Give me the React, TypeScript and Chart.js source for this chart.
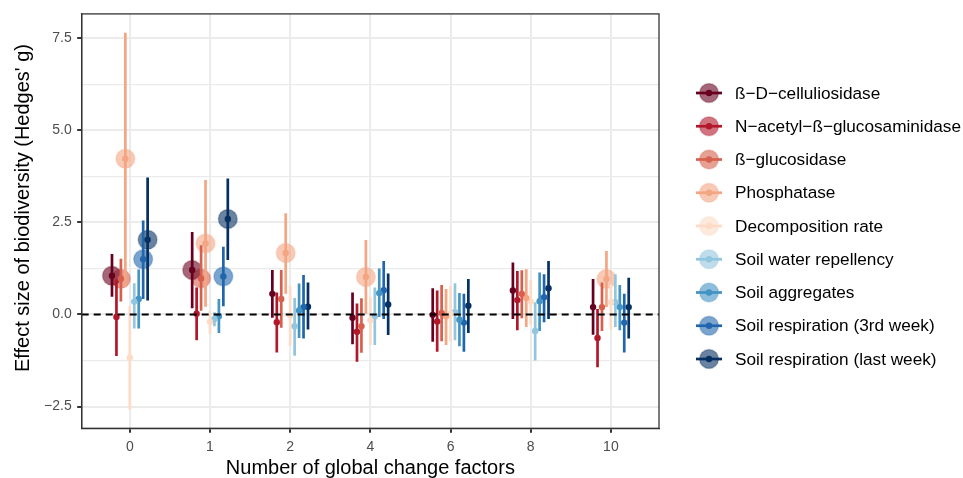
import React, { useEffect, useRef } from "react";
import { Chart, registerables } from "chart.js";
Chart.register(...registerables);

// ---------- data ----------
const categories = ["0", "1", "2", "4", "6", "8", "10"];
const seriesNames = [
  "ß\u2212D\u2212celluliosidase",
  "N\u2212acetyl\u2212ß\u2212glucosaminidase",
  "ß\u2212glucosidase",
  "Phosphatase",
  "Decomposition rate",
  "Soil water repellency",
  "Soil aggregates",
  "Soil respiration (3rd week)",
  "Soil respiration (last week)",
];
const seriesColors = ["#67001F", "#B2182B", "#D6604D", "#F4A582", "#FDDBC7", "#92C5DE", "#4393C3", "#2166AC", "#053061"];

const cellulosidaseMean = [1.05, 1.21, 0.56, -0.09, -0.01, 0.65, 0.2];
const cellulosidaseLow = [0.48, 0.17, -0.09, -0.81, -0.74, -0.12, -0.55];
const cellulosidaseHigh = [1.64, 2.24, 1.21, 0.6, 0.71, 1.41, 0.96];
const cellulosidaseBig = [1, 1, 0, 0, 0, 0, 0];

const acetylMean = [-0.07, 0.02, -0.21, -0.47, -0.19, 0.39, -0.64];
const acetylLow = [-1.13, -0.7, -1.03, -1.28, -1.01, -0.43, -1.43];
const acetylHigh = [0.95, 0.73, 0.6, 0.3, 0.65, 1.18, 0.15];
const acetylBig = [0, 0, 0, 0, 0, 0, 0];

const glucosidaseMean = [0.97, 0.98, 0.42, -0.32, 0.04, 0.56, 0.2];
const glucosidaseLow = [0.35, 0.1, -0.36, -1.04, -0.73, -0.1, -0.45];
const glucosidaseHigh = [1.51, 1.88, 1.21, 0.44, 0.8, 1.2, 0.87];
const glucosidaseBig = [1, 1, 0, 0, 0, 0, 0];

const phosphataseMean = [4.23, 1.93, 1.67, 1.02, -0.05, 0.45, 0.96];
const phosphataseLow = [0.75, 0.21, 0.56, 0.02, -0.83, -0.34, 0.2];
const phosphataseHigh = [7.65, 3.65, 2.75, 2.02, 0.69, 1.23, 1.72];
const phosphataseBig = [1, 1, 1, 1, 0, 0, 1];

const decompositionMean = [-1.17, -0.2, -0.03, -0.16, 0.02, 0.35, 0.33];
const decompositionLow = [-2.58, -0.52, -0.85, -0.83, -0.73, -0.28, -0.41];
const decompositionHigh = [0.24, 0.1, 0.78, 0.48, 0.78, 0.94, 0.82];
const decompositionBig = [0, 0, 0, 0, 0, 0, 0];

const repellencyMean = [0.35, -0.12, -0.32, -0.05, 0.06, -0.45, 0.33];
const repellencyLow = [-0.38, -0.32, -1.12, -0.83, -0.7, -1.25, -0.34];
const repellencyHigh = [0.85, 0.06, 0.45, 0.73, 0.85, 0.33, 1.09];
const repellencyBig = [0, 0, 0, 0, 0, 0, 0];

const aggregatesMean = [0.42, -0.05, 0.11, 0.58, -0.14, 0.36, 0.2];
const aggregatesLow = [-0.38, -0.5, -0.64, -0.07, -0.86, -0.45, -0.43];
const aggregatesHigh = [1.22, 0.42, 0.84, 1.25, 0.58, 1.14, 0.8];
const aggregatesBig = [0, 0, 0, 0, 0, 0, 0];

const resp3Mean = [1.5, 1.03, 0.2, 0.66, -0.22, 0.47, -0.22];
const resp3Low = [0.42, 0.22, -0.65, -0.12, -1.01, -0.21, -1.03];
const resp3High = [2.55, 1.84, 1.07, 1.45, 0.56, 1.09, 0.56];
const resp3Big = [1, 1, 0, 0, 0, 0, 0];

const respLastMean = [2.03, 2.59, 0.21, 0.27, 0.24, 0.71, 0.2];
const respLastLow = [0.38, 1.48, -0.41, -0.56, -0.5, -0.12, -0.65];
const respLastHigh = [3.72, 3.69, 0.87, 1.11, 0.96, 1.45, 1.0];
const respLastBig = [1, 1, 0, 0, 0, 0, 0];

const yTickValues = [-2.5, -1.25, 0, 1.25, 2.5, 3.75, 5, 6.25, 7.5];
const xTitle = "Number of global change factors";
const yTitle = "Effect size of biodiversity (Hedges' g)";

const seriesMeans = [cellulosidaseMean, acetylMean, glucosidaseMean, phosphataseMean, decompositionMean, repellencyMean, aggregatesMean, resp3Mean, respLastMean];
const seriesLows = [cellulosidaseLow, acetylLow, glucosidaseLow, phosphataseLow, decompositionLow, repellencyLow, aggregatesLow, resp3Low, respLastLow];
const seriesHighs = [cellulosidaseHigh, acetylHigh, glucosidaseHigh, phosphataseHigh, decompositionHigh, repellencyHigh, aggregatesHigh, resp3High, respLastHigh];
const seriesBig = [cellulosidaseBig, acetylBig, glucosidaseBig, phosphataseBig, decompositionBig, repellencyBig, aggregatesBig, resp3Big, respLastBig];

// ---------- styling ----------
const FONT = "'Liberation Sans', Arial, Helvetica, sans-serif";
const BIG_ALPHA = 0.6;
const BIG_R = 9.5;
const SMALL_R = 3.2;
const BAR_W = 2.7;

function hexA(hex: string, a: number) {
  const r = parseInt(hex.slice(1, 3), 16);
  const g = parseInt(hex.slice(3, 5), 16);
  const b = parseInt(hex.slice(5, 7), 16);
  return `rgba(${r},${g},${b},${a})`;
}

function fmtY(v: number) {
  const s = Math.abs(v).toFixed(1);
  return v < 0 ? "\u2212" + s : s;
}

const isMajor = (v: number) => Math.abs(v / 2.5 - Math.round(v / 2.5)) < 1e-9;

export default function App() {
  const ref = useRef<HTMLCanvasElement>(null);

  useEffect(() => {
    const canvas = ref.current!;
    const n = seriesNames.length;
    const dodge = 0.5 / n;
    const datasets: any[] = [];

    datasets.push({
      type: "line",
      data: [{ x: -0.6, y: 0 }, { x: 6.6, y: 0 }],
      borderColor: "#000000",
      borderWidth: 2,
      borderDash: [7, 5],
      pointRadius: 0,
      order: 0,
    });

    for (let i = 0; i < n; i++) {
      const off = (i - (n - 1) / 2) * dodge;
      const color = seriesColors[i];
      const bars: any[] = [];
      seriesMeans[i].forEach((_, j) => {
        bars.push({ x: j + off, y: seriesLows[i][j] });
        bars.push({ x: j + off, y: seriesHighs[i][j] });
        bars.push({ x: j + off, y: null });
      });
      datasets.push({
        type: "line",
        data: bars,
        borderColor: color,
        borderWidth: BAR_W,
        borderCapStyle: "butt",
        pointRadius: 0,
        spanGaps: false,
        fill: false,
        order: 2,
      });
      datasets.push({
        type: "scatter",
        data: seriesMeans[i].map((m, j) => ({ x: j + off, y: m })).filter((_, j) => seriesBig[i][j]),
        pointRadius: BIG_R,
        pointBackgroundColor: hexA(color, BIG_ALPHA),
        pointBorderColor: hexA(color, 0.25),
        pointBorderWidth: 1.5,
        order: 3,
      });
      datasets.push({
        type: "scatter",
        data: seriesMeans[i].map((m, j) => ({ x: j + off, y: m })),
        pointRadius: SMALL_R,
        pointBackgroundColor: color,
        pointBorderWidth: 0,
        order: 1,
      });
    }

    const overlay = {
      id: "overlay",
      afterDraw(chart: any) {
        const c = chart.ctx;
        const a = chart.chartArea;
        c.save();
        // panel border
        c.strokeStyle = "#333333";
        c.lineWidth = 1.3;
        c.strokeRect(a.left, a.top, a.right - a.left, a.bottom - a.top);
        // y title
        c.fillStyle = "#000000";
        c.font = `20px ${FONT}`;
        c.textAlign = "center";
        c.textBaseline = "middle";
        c.translate(23, 208);
        c.rotate(-Math.PI / 2);
        c.fillText(yTitle, 0, 0);
        c.restore();
        // legend
        c.save();
        for (let i = 0; i < n; i++) {
          const y = 93 + i * 33.25;
          const col = seriesColors[i];
          c.beginPath();
          c.fillStyle = hexA(col, BIG_ALPHA);
          c.arc(709, y, BIG_R, 0, Math.PI * 2);
          c.fill();
          c.strokeStyle = hexA(col, 0.25);
          c.lineWidth = 1.5;
          c.stroke();
          c.beginPath();
          c.strokeStyle = col;
          c.lineWidth = BAR_W;
          c.moveTo(696, y);
          c.lineTo(722, y);
          c.stroke();
          c.beginPath();
          c.fillStyle = col;
          c.arc(709, y, SMALL_R, 0, Math.PI * 2);
          c.fill();
          c.fillStyle = "#000000";
          c.font = `17.2px ${FONT}`;
          c.textAlign = "left";
          c.textBaseline = "middle";
          c.fillText(seriesNames[i], 735, y + 1);
        }
        c.restore();
      },
    };

    const chart = new Chart(canvas, {
      type: "scatter",
      data: { datasets },
      options: {
        animation: false,
        responsive: false,
        devicePixelRatio: 1,
        layout: { padding: { left: 0, right: 304, top: 10.7, bottom: 0 } },
        plugins: { legend: { display: false }, tooltip: { enabled: false } },
        scales: {
          x: {
            type: "linear",
            min: -0.6,
            max: 6.6,
            afterBuildTicks: (s: any) => {
              s.ticks = categories.map((_, i) => ({ value: i }));
            },
            afterFit: (s: any) => {
              s.height = 49.7;
            },
            ticks: {
              autoSkip: false,
              maxRotation: 0,
              padding: 6,
              color: "#4D4D4D",
              font: { family: FONT, size: 14 },
              callback: (v: any) => categories[v] ?? "",
            },
            grid: { color: "#EBEBEB", lineWidth: 2, tickColor: "#333333", tickLength: 4.5 },
            border: { display: true, color: "#333333", width: 1.3 },
            title: {
              display: true,
              text: xTitle,
              color: "#000000",
              font: { family: FONT, size: 20 },
              padding: { top: 0, bottom: -2 },
            },
          },
          y: {
            type: "linear",
            min: -3.09,
            max: 8.16,
            afterBuildTicks: (s: any) => {
              s.ticks = yTickValues.map((v) => ({ value: v }));
            },
            afterFit: (s: any) => {
              s.width = 81.7;
            },
            ticks: {
              autoSkip: false,
              padding: 5.5,
              color: "#4D4D4D",
              font: { family: FONT, size: 14 },
              callback: (v: any) => (isMajor(v) ? fmtY(v) : ""),
            },
            grid: {
              color: "#EBEBEB",
              lineWidth: (ctx: any) => (ctx.tick && isMajor(ctx.tick.value) ? 2 : 1.2),
              tickColor: (ctx: any) => (ctx.tick && isMajor(ctx.tick.value) ? "#333333" : "rgba(0,0,0,0)"),
              tickLength: 4.5,
            },
            border: { display: true, color: "#333333", width: 1.3 },
          },
        },
      },
      plugins: [overlay],
    } as any);

    return () => chart.destroy();
  }, []);

  return (
    <div style={{ position: "absolute", left: 0, top: 0, width: 963, height: 478, background: "#fff" }}>
      <canvas ref={ref} width={963} height={478} style={{ display: "block" }} />
    </div>
  );
}
